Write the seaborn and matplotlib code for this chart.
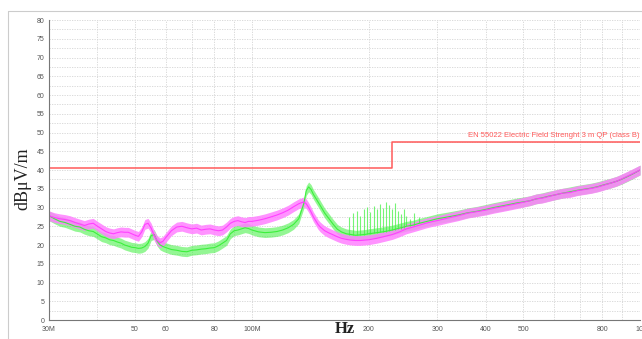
import matplotlib
matplotlib.use("Agg")
import matplotlib.pyplot as plt
import matplotlib.ticker as mticker
from matplotlib.lines import Line2D
import seaborn as sns
import pandas as pd

# ---------------- data ----------------
freq_mhz = [30, 31, 32, 33, 34, 35, 36, 37, 38, 39, 40, 41, 42, 43, 44, 45, 46, 47, 48, 49,
            50, 51, 52, 53, 54, 55, 56, 57, 58, 59, 60, 62, 64, 66, 68, 70, 72, 74, 76, 78,
            80, 82, 84, 86, 88, 90, 92, 94, 96, 98, 100, 104, 108, 112, 116, 120, 124, 128,
            132, 136, 138, 140, 142, 144, 146, 148, 150, 154, 158, 162, 166, 170, 175, 180,
            185, 190, 195, 200, 210, 220, 230, 240, 250, 260, 270, 280, 290, 300, 320, 340,
            360, 380, 400, 420, 440, 460, 480, 500, 520, 540, 560, 580, 600, 630, 660, 690,
            720, 750, 780, 810, 840, 870, 900, 930, 960, 1000]

green_dbuv = [27.8, 27.0, 26.3, 26.0, 25.5, 25.0, 24.8, 24.2, 23.8, 23.6, 22.9, 22.2, 21.9, 21.4,
              21.2, 20.8, 20.5, 20.0, 19.7, 19.4, 19.3, 19.1, 19.2, 19.6, 20.5, 22.5, 22.8, 21.0,
              20.0, 19.6, 19.3, 18.8, 18.6, 18.3, 18.2, 18.6, 18.7, 18.9, 19.0, 19.2, 19.3, 19.8,
              20.5, 21.2, 23.0, 23.8, 24.0, 24.3, 24.6, 24.4, 24.0, 23.5, 23.3, 23.4, 23.6, 24.0,
              24.6, 25.5, 27.0, 31.0, 34.5, 35.5, 34.8, 33.5, 32.5, 31.5, 30.5, 28.5, 27.0, 25.5,
              24.2, 23.5, 23.0, 22.8, 22.6, 22.7, 22.8, 23.0, 23.3, 23.6, 24.0, 24.5, 25.0, 25.3,
              25.8, 26.2, 26.6, 27.0, 27.5, 28.0, 28.6, 29.0, 29.5, 30.0, 30.4, 30.8, 31.2, 31.5,
              31.8, 32.3, 32.6, 33.0, 33.3, 33.8, 34.2, 34.6, 34.9, 35.2, 35.6, 36.1, 36.5, 37.0,
              37.6, 38.3, 39.0, 40.0]

magenta_dbuv = [27.8, 27.3, 27.0, 26.8, 26.5, 26.0, 25.6, 25.2, 25.6, 25.8, 25.0, 24.3, 23.6, 23.2,
                23.0, 23.3, 23.5, 23.4, 23.4, 23.0, 22.6, 22.3, 23.5, 25.5, 25.8, 24.5, 22.5, 21.2,
                20.6, 21.0, 22.0, 23.8, 24.8, 25.0, 24.6, 24.3, 24.5, 24.0, 24.2, 24.3, 24.0, 23.8,
                24.0, 24.8, 25.8, 26.3, 26.5, 26.2, 26.0, 26.3, 26.3, 26.6, 27.0, 27.5, 28.0, 28.6,
                29.3, 30.2, 31.0, 31.5, 31.0, 30.0, 28.8, 27.5, 26.5, 25.5, 24.8, 23.8, 23.2, 22.7,
                22.2, 21.8, 21.5, 21.3, 21.2, 21.2, 21.3, 21.4, 21.8, 22.3, 22.8, 23.5, 24.3, 24.8,
                25.3, 25.8, 26.2, 26.5, 27.2, 27.8, 28.5, 28.9, 29.3, 29.8, 30.2, 30.6, 31.0, 31.4,
                31.8, 32.3, 32.5, 32.9, 33.3, 33.8, 34.0, 34.5, 34.8, 35.1, 35.5, 36.0, 36.5, 37.0,
                37.7, 38.4, 39.1, 40.0]

# spikes on the green trace between ~180 and ~270 MHz
spike_freq = [178, 182, 186, 190, 194, 198, 202, 206, 210, 214, 218, 222, 226, 230, 234, 238,
              242, 246, 250, 255, 262, 270]
spike_top = [27.5, 28.5, 29.0, 27.8, 29.5, 30.2, 28.8, 30.5, 29.6, 31.0, 30.0, 31.5, 30.8, 29.5,
             31.2, 29.0, 28.2, 29.6, 27.8, 27.0, 28.5, 27.6]
spike_base = [22.8, 22.7, 22.7, 22.7, 22.8, 22.9, 23.0, 23.1, 23.3, 23.4, 23.5, 23.6, 23.7, 23.9,
              24.1, 24.3, 24.4, 24.6, 25.0, 25.1, 25.3, 25.8]

# limit line (EN 55022 class B, 3 m QP)
limit_freq = [30, 230, 230, 1000]
limit_dbuv = [40.5, 40.5, 47.5, 47.5]
limit_label = "EN 55022 Electric Field Strenght 3 m QP (class B)"

x_tick_vals = [30, 40, 50, 60, 70, 80, 90, 100, 200, 300, 400, 500, 600, 700, 800, 900, 1000]
x_tick_text = ["30M", "", "50", "60", "", "80", "", "100M", "200", "300", "400", "500", "",
               "", "800", "", "1G"]

# ---------------- drawing ----------------
sns.set_theme(style="white")
plt.rcParams["font.family"] = ["Liberation Sans", "DejaVu Sans"]

fig = plt.figure(figsize=(6.42, 3.39), dpi=100)
ax = fig.add_axes([0.0763, 0.056, 0.9207, 0.885])

GREEN = "#3cf03c"
MAGENTA = "#ff40ff"
band = 1.3

df = pd.DataFrame({"f": freq_mhz, "green": green_dbuv, "magenta": magenta_dbuv})

ax.fill_between(df["f"], df["green"] - band, df["green"] + band, color=GREEN, alpha=0.55, lw=0)
ax.vlines(spike_freq, spike_base, spike_top, color=GREEN, lw=0.8, alpha=0.7)
sns.lineplot(data=df, x="f", y="green", color=GREEN, lw=0.8, ax=ax, estimator=None)
ax.fill_between(df["f"], df["magenta"] - band, df["magenta"] + band, color="#ff80ff", alpha=0.85, lw=0)
sns.lineplot(data=df, x="f", y="magenta", color=MAGENTA, lw=0.8, ax=ax, estimator=None)

ax.plot(limit_freq, limit_dbuv, color="#ff5a5a", lw=1.1)
ax.text(995, 48.2, limit_label, color="#ff5a5a", fontsize=5.5, ha="right", va="bottom")

ax.set_xscale("log")
ax.set_xlim(30, 1000)
ax.set_ylim(0, 80)

ax.xaxis.set_major_locator(mticker.FixedLocator(x_tick_vals))
ax.xaxis.set_major_formatter(mticker.FixedFormatter(x_tick_text))
ax.xaxis.set_minor_locator(mticker.NullLocator())
ax.yaxis.set_major_locator(mticker.MultipleLocator(5))
ax.yaxis.set_minor_locator(mticker.MultipleLocator(2.5))

ax.tick_params(axis="both", which="both", labelsize=5, labelcolor="#555555", colors="#555555",
               length=2.5, width=0.6, direction="inout", pad=2)
ax.tick_params(axis="y", which="minor", length=2.0)
ax.tick_params(axis="x", which="major", pad=3)

ax.grid(True, which="both", color="#d4d4d4", lw=0.6, ls=(0, (1.5, 1.5)))
for side in ["top", "right"]:
    ax.spines[side].set_visible(False)
for side in ["left", "bottom"]:
    ax.spines[side].set_color("#777777")
    ax.spines[side].set_linewidth(0.8)

ax.set_xlabel("")
ax.set_ylabel("dBμV/m", family=["Liberation Serif", "DejaVu Serif"], fontsize=13, color="#222222")
ax.yaxis.set_label_coords(-0.03, 0.47)
ax.text(0.5, -0.03, "Hz", transform=ax.transAxes, family=["Liberation Serif", "DejaVu Serif"],
        fontsize=12, fontweight="bold", color="#222222", ha="center", va="center")

# outer frame (left and top edges visible)
fig.add_artist(Line2D([8 / 642, 8 / 642], [0, 1 - 11 / 339], color="#cccccc", lw=0.8,
                      transform=fig.transFigure))
fig.add_artist(Line2D([8 / 642, 1], [1 - 11 / 339, 1 - 11 / 339], color="#cccccc", lw=0.8,
                      transform=fig.transFigure))

fig.savefig("out.png", dpi=100)
